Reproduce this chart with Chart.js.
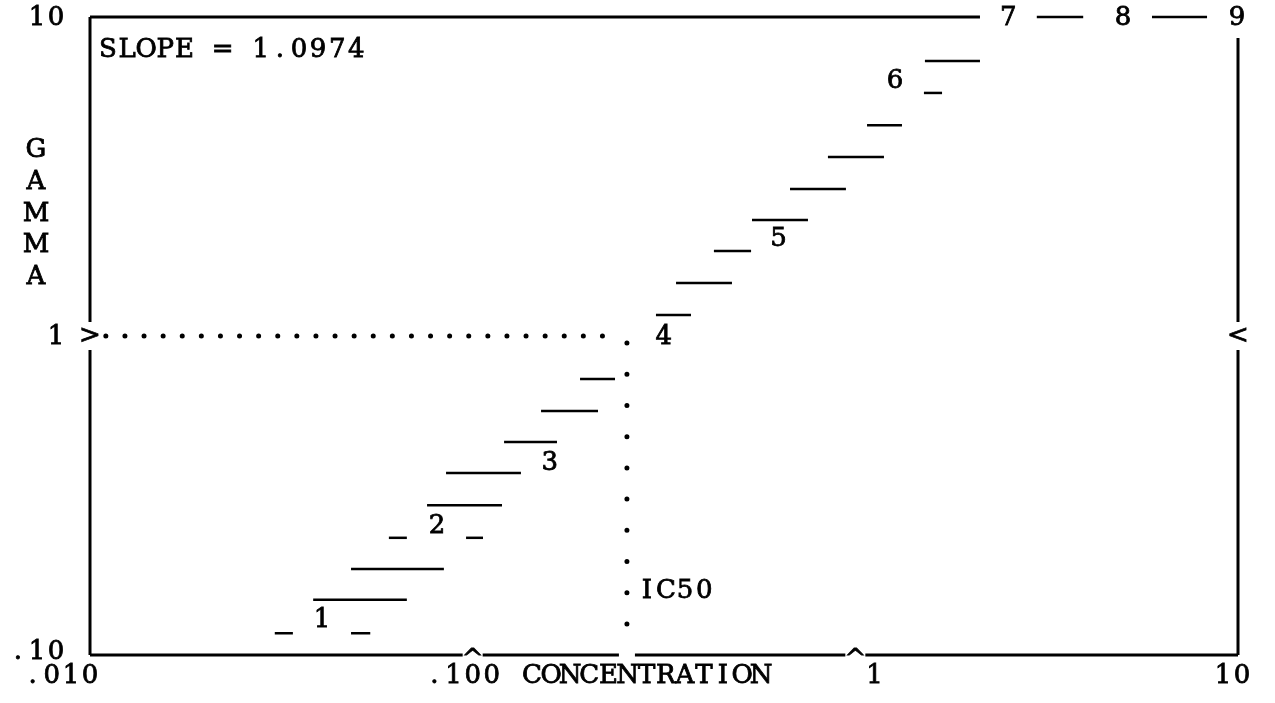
<!DOCTYPE html>
<html>
<head>
<meta charset="UTF-8">
<title>Gamma vs concentration</title>
<script src="https://cdn.jsdelivr.net/npm/chart.js"></script>
<style>
  body { margin: 0; background: #fff; }
  canvas { display: block; }
</style>
</head>
<body>
<canvas id="plot" width="1275" height="703"></canvas>
<script>
// step runs: gamma level and concentration span of each printed run
const gammaLevels = [0.117, 0.117, 0.149, 0.186, 0.233, 0.233, 0.295, 0.372, 0.465, 0.582, 0.733,
                     1.164, 1.466, 1.847, 2.31, 2.89, 3.64, 4.58, 5.78, 7.28, 10, 10];
const concStart = [0.0304, 0.0481, 0.0383, 0.0481, 0.0604, 0.0961, 0.0760, 0.0852, 0.1208, 0.1509, 0.1908,
                   0.3013, 0.340, 0.427, 0.537, 0.675, 0.848, 1.073, 1.511, 1.52, 2.98, 5.96];
const concEnd = [0.0339, 0.0540, 0.0673, 0.0841, 0.0673, 0.1064, 0.1193, 0.1337, 0.1661, 0.2126, 0.2355,
                 0.372, 0.476, 0.534, 0.752, 0.945, 1.188, 1.324, 1.685, 2.117, 3.94, 8.30];

// run numbers printed beside the steps
const runLabels = ['1', '2', '3', '4', '5', '6', '7', '8', '9'];
const runLabelConc = [0.0404, 0.0807, 0.159, 0.316, 0.63, 1.27, 2.51, 5.01, 9.94];
const runLabelGamma = [0.129, 0.256, 0.403, 1.0, 2.03, 6.35, 10, 10, 10];

const xTickValues = [0.01, 0.1, 1, 10];
const xTickLabels = ['.010', '.100', '1', '10'];
const yTickValues = [10, 1, 0.1];
const yTickLabels = ['10', '1', '.10'];

const slope = 1.0974;
const ic50 = 0.253;
const frameTopEnd = 2.117;

const PITCH = 19.1;   // typewriter character pitch
const LINE = 31.9;    // typewriter line feed
const FONT = '26px "DejaVu Serif"';

// type one glyph, with a light overstrike so it prints as dark as a ribbon
function strike(ctx, c, x, y) {
  ctx.fillText(c, x, y);
  ctx.strokeText(c, x, y);
}

function typeAt(ctx, text, x, y) {
  for (let i = 0; i < text.length; i++) {
    strike(ctx, text[i], x + i * PITCH, y);
  }
}

const datasets = gammaLevels.map((g, i) => ({
  data: [{ x: concStart[i], y: g }, { x: concEnd[i], y: g }],
  borderColor: '#000',
  borderWidth: 2.5,
  pointRadius: 0,
  showLine: true,
  clip: false
}));

// dotted guides to the IC50
datasets.push({
  data: [{ x: 0.011, y: 1 }, { x: 0.235, y: 1 }],
  borderColor: '#000', borderWidth: 5, borderDash: [0, PITCH], borderCapStyle: 'round',
  pointRadius: 0, showLine: true, clip: false
});
datasets.push({
  data: [{ x: ic50, y: 0.95 }, { x: ic50, y: 0.1 }],
  borderColor: '#000', borderWidth: 5, borderDash: [0, 31.2], borderCapStyle: 'round',
  pointRadius: 0, showLine: true, clip: false
});

const printout = {
  id: 'printout',
  afterDraw(chart) {
    const ctx = chart.ctx;
    const xs = chart.scales.x, ys = chart.scales.y;
    const a = chart.chartArea;
    const y1 = ys.getPixelForValue(1);
    const xIc = xs.getPixelForValue(ic50);
    const xC1 = xs.getPixelForValue(0.1), xC2 = xs.getPixelForValue(1);

    ctx.save();
    ctx.strokeStyle = '#000';
    ctx.lineWidth = 3;
    ctx.lineCap = 'butt';
    const seg = (x0, y0, x1, yb) => { ctx.beginPath(); ctx.moveTo(x0, y0); ctx.lineTo(x1, yb); ctx.stroke(); };
    // frame, broken where the markers are typed
    seg(a.left, a.top, xs.getPixelForValue(frameTopEnd), a.top);
    seg(a.left, a.top, a.left, y1 - 14);
    seg(a.left, y1 + 14, a.left, a.bottom);
    seg(a.right, a.top + 21, a.right, y1 - 14);
    seg(a.right, y1 + 14, a.right, a.bottom);
    seg(a.left, a.bottom, xC1 - 10, a.bottom);
    seg(xC1 + 10, a.bottom, xIc - 8, a.bottom);
    seg(xIc + 8, a.bottom, xC2 - 10, a.bottom);
    seg(xC2 + 10, a.bottom, a.right, a.bottom);

    ctx.fillStyle = '#000';
    ctx.lineWidth = 0.8;
    ctx.font = FONT;
    ctx.textAlign = 'center';
    ctx.textBaseline = 'middle';

    // markers on the frame
    strike(ctx, '>', a.left, y1);
    strike(ctx, '<', a.right, y1);
    strike(ctx, '^', xC1, a.bottom + 5);
    strike(ctx, '^', xC2, a.bottom + 5);

    // y tick labels, right aligned in the column left of the frame
    yTickValues.forEach((v, i) => {
      const t = yTickLabels[i];
      const lastX = a.left - 34;
      const dy = i === 2 ? -3 : 1;
      typeAt(ctx, t, lastX - (t.length - 1) * PITCH, ys.getPixelForValue(v) + dy);
    });

    // x tick labels, shifted by whole character cells
    const cellShift = [-3, -2, 1, -1];
    const row = a.bottom + 21;
    xTickValues.forEach((v, i) => {
      const extra = i === 3 ? 4 : 0;
      typeAt(ctx, xTickLabels[i], xs.getPixelForValue(v) + cellShift[i] * PITCH + extra, row);
    });

    typeAt(ctx, 'CONCENTRATION', 532, row);
    'GAMMA'.split('').forEach((c, i) => strike(ctx, c, 36, 150 + i * LINE));
    typeAt(ctx, 'SLOPE = ' + slope.toFixed(4), a.left + 18, a.top + 33);
    typeAt(ctx, 'IC50', xIc + 20, ys.getPixelForValue(0.1) - 2 * LINE);

    runLabels.forEach((t, i) => {
      strike(ctx, t, xs.getPixelForValue(runLabelConc[i]), ys.getPixelForValue(runLabelGamma[i]) + 1);
    });
    ctx.restore();
  }
};

new Chart(document.getElementById('plot'), {
  type: 'scatter',
  data: { datasets },
  options: {
    responsive: false,
    devicePixelRatio: 1,
    animation: false,
    layout: { padding: { left: 90, right: 37, top: 17, bottom: 48 } },
    scales: {
      x: { type: 'logarithmic', min: 0.01, max: 10, display: false },
      y: { type: 'logarithmic', min: 0.1, max: 10, display: false }
    },
    plugins: { legend: { display: false }, tooltip: { enabled: false } }
  },
  plugins: [printout]
});
</script>
</body>
</html>
